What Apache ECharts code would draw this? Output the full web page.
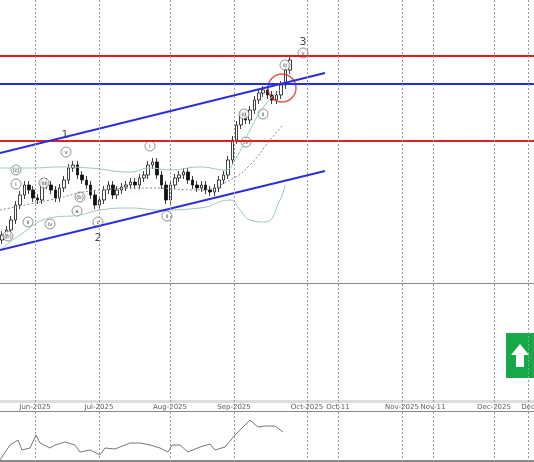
<!DOCTYPE html><html><head><meta charset="utf-8">
<script src="https://cdn.jsdelivr.net/npm/echarts@6/dist/echarts.min.js"></script>
<style>html,body{margin:0;background:#fff}#c{width:534px;height:462px}</style></head><body><div id="c"></div>
<script>
const closes=[65,70,80,95,105,115,110,102,100,118,115,110,102,112,120,132,135,125,120,115,105,95,100,110,115,105,110,113,115,118,115,122,125,135,138,125,115,100,115,122,125,128,120,115,112,115,110,108,112,120,125,140,160,175,185,180,190,200,207,210,205,200,205,215,230,240];
const wick=4;
const redLevels=[244,159];
const blueLevel=216;
const chanUpper=[[0,147],[325,227]];
const chanLower=[[0,50],[325,129]];
const bbUpper=[[0,132],[30,132],[60,133],[90,132],[130,128],[150,132],[170,130],[200,133],[225,130],[235,140],[250,170],[265,195],[280,210]];
const bbLower=[[0,50],[20,65],[50,82],[80,85],[100,90],[130,92],[160,90],[200,92],[230,100],[240,90],[250,80],[265,78],[280,100],[285,115]];
const bbMid=[[0,90],[50,100],[100,110],[150,112],[200,110],[230,120],[250,135],[270,160],[283,175]];
const osc=[[0,2],[10,17],[18,22],[22,12],[30,14],[36,27],[40,19],[50,14],[55,17],[65,20],[75,17],[80,10],[90,12],[100,7],[105,14],[115,13],[130,19],[140,19],[150,17],[160,14],[168,10],[172,17],[180,17],[188,10],[200,15],[210,18],[215,12],[225,15],[235,27],[245,37],[250,42],[258,35],[265,36],[275,36],[283,30]];
const dateTicks=[[35,'Jun-2025'],[99,'Jul-2025'],[170,'Aug-2025'],[234,'Sep-2025'],[307,'Oct-2025'],[338,'Oct-11'],[402,'Nov-2025'],[433,'Nov-11'],[494,'Dec-2025'],[528,'Dec']];
const waveNums=[[65,165,'1'],[98,62,'2'],[303,258,'3']];
const waveCirc=[[16,116,'i'],[16,130,'(c)'],[44,117,'iii'],[66,148,'v'],[80,103,'(b)'],[77,89,'a'],[50,76,'iv'],[28,78,'ii'],[98,78,'c'],[150,154,'i'],[167,84,'ii'],[244,186,'iii'],[263,186,'ii'],[246,158,'iv'],[285,235,'iii'],[303,247,'v'],[8,64,'(b)']];
const circleMark=[[282,212]];
const N=closes.length;
const cd=closes.map((c,i)=>{const o=i?closes[i-1]:c-5;return [o,c,Math.min(o,c)-wick,Math.max(o,c)+wick];});
const chart=echarts.init(document.getElementById('c'));
const hl=(v,col)=>({type:'line',xAxisIndex:0,yAxisIndex:0,data:[[0,v],[534,v]],symbol:'none',lineStyle:{color:col,width:2},silent:true});
const grey={color:'#999',type:[2,2],width:1};
chart.setOption({animation:false,
grid:[{left:0,right:0,top:0,height:283},{left:0,width:292,top:0,height:283},{left:0,right:0,top:413,height:49},{left:0,right:0,top:0,height:462}],
xAxis:[{type:'value',min:0,max:534,gridIndex:0,show:false},
{type:'category',gridIndex:1,data:closes.map((_,i)=>i),show:false},
{type:'value',min:0,max:534,gridIndex:2,show:false},
{type:'value',min:0,max:534,gridIndex:3,show:false}],
yAxis:[{type:'value',min:17,max:300,gridIndex:0,show:false},{type:'value',min:17,max:300,gridIndex:1,show:false},
{type:'value',min:0,max:49,gridIndex:2,show:false},{type:'value',min:0,max:462,gridIndex:3,show:false}],
graphic:[{type:'rect',shape:{x:0,y:283,width:534,height:1},style:{fill:'#888'}},
{type:'rect',shape:{x:0,y:400,width:534,height:3},style:{fill:'#ddd'}},
{type:'rect',shape:{x:0,y:411,width:534,height:1},style:{fill:'#888'}},
{type:'rect',shape:{x:0,y:460,width:534,height:2},style:{fill:'#888'}},
{type:'rect',shape:{x:506,y:333,width:28,height:45},style:{fill:'#17a84a'}},
{type:'polygon',shape:{points:[[520,344],[511,355],[516,355],[516,367],[524,367],[524,355],[529,355]]},style:{fill:'#fff'}}],
series:[
{type:'line',xAxisIndex:3,yAxisIndex:3,data:[],symbol:'none',markLine:{symbol:'none',silent:true,lineStyle:grey,label:{show:false},data:dateTicks.map(t=>({xAxis:t[0]}))}},
{type:'scatter',xAxisIndex:3,yAxisIndex:3,symbolSize:0,data:dateTicks.map(t=>[t[0],55]),label:{show:true,position:'inside',formatter:p=>dateTicks[p.dataIndex][1],fontSize:7,color:'#333',fontFamily:'DejaVu Sans'}},
{type:'line',xAxisIndex:0,yAxisIndex:0,data:bbUpper,symbol:'none',smooth:true,lineStyle:{color:'#9cc8c0',width:1}},
{type:'line',xAxisIndex:0,yAxisIndex:0,data:bbLower,symbol:'none',smooth:true,lineStyle:{color:'#9cc8c0',width:1}},
{type:'line',xAxisIndex:0,yAxisIndex:0,data:bbMid,symbol:'none',smooth:true,lineStyle:{color:'#888',width:1,type:[2,2]}},
hl(redLevels[0],'#e02020'),hl(redLevels[1],'#e02020'),hl(blueLevel,'#2030e0'),
{type:'line',xAxisIndex:0,yAxisIndex:0,data:chanUpper,symbol:'none',lineStyle:{color:'#2a2ee0',width:2}},
{type:'line',xAxisIndex:0,yAxisIndex:0,data:chanLower,symbol:'none',lineStyle:{color:'#2a2ee0',width:2}},
{type:'candlestick',xAxisIndex:1,yAxisIndex:1,data:cd,barWidth:3,itemStyle:{color:'#fff',color0:'#111',borderColor:'#111',borderColor0:'#111',borderWidth:0.8}},
{type:'scatter',xAxisIndex:0,yAxisIndex:0,data:circleMark,symbolSize:28,itemStyle:{color:'rgba(0,0,0,0)',borderColor:'#e03030',borderWidth:1.5}},
{type:'scatter',xAxisIndex:0,yAxisIndex:0,data:waveCirc.map(w=>[w[0],w[1]]),symbolSize:10,itemStyle:{color:'#fff',borderColor:'#555',borderWidth:0.8},label:{show:true,position:'inside',formatter:p=>waveCirc[p.dataIndex][2],fontSize:6,color:'#222'}},
{type:'scatter',xAxisIndex:0,yAxisIndex:0,data:waveNums.map(w=>[w[0],w[1]]),symbolSize:0,label:{show:true,position:'inside',formatter:p=>waveNums[p.dataIndex][2],fontSize:11,color:'#111',fontFamily:'DejaVu Sans'}},
{type:'line',xAxisIndex:2,yAxisIndex:2,data:osc,symbol:'none',lineStyle:{color:'#777',width:1}}
]});
</script></body></html>
